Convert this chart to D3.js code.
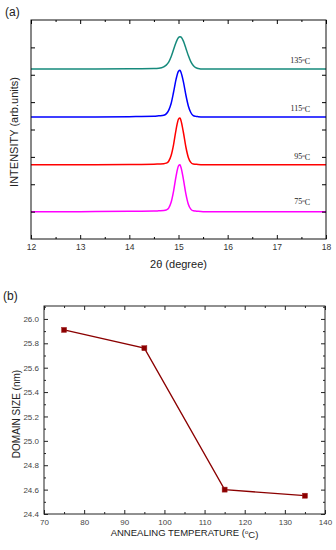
<!DOCTYPE html>
<html><head><meta charset="utf-8">
<script src="https://cdn.jsdelivr.net/npm/d3@7/dist/d3.min.js"></script>
<style>
html,body{margin:0;padding:0;background:#fff;}
svg{display:block;}
</style></head>
<body>
<svg id="chart" width="336" height="550"></svg>
<script>
// ---------- Panel (a) data: XRD profiles (stacked, arb. units) ----------
const twoTheta = [12, 13, 14, 14.5, 14.6, 14.7, 14.75, 14.8, 14.85, 14.9, 14.95, 15.0, 15.03, 15.05, 15.1, 15.15, 15.2, 15.25, 15.3, 15.35, 15.4, 15.5, 16, 17, 18];
const int75  = [1.00, 1.00, 1.01, 1.02, 1.03, 1.04, 1.06, 1.13, 1.34, 1.75, 2.29, 2.67, 2.71, 2.62, 2.18, 1.65, 1.27, 1.09, 1.03, 1.02, 1.01, 1.00, 1.00, 1.00, 1.00];
const int95  = [2.71, 2.71, 2.72, 2.73, 2.74, 2.75, 2.77, 2.84, 3.05, 3.45, 3.99, 4.38, 4.42, 4.33, 3.89, 3.36, 2.98, 2.80, 2.74, 2.73, 2.72, 2.71, 2.71, 2.71, 2.71];
const int115 = [4.46, 4.46, 4.47, 4.48, 4.50, 4.52, 4.57, 4.70, 4.95, 5.37, 5.83, 6.13, 6.16, 6.09, 5.74, 5.26, 4.86, 4.62, 4.51, 4.48, 4.47, 4.46, 4.46, 4.46, 4.46];
const int135 = [6.21, 6.21, 6.22, 6.23, 6.24, 6.29, 6.35, 6.46, 6.66, 6.92, 7.18, 7.36, 7.39, 7.38, 7.23, 6.97, 6.70, 6.48, 6.34, 6.26, 6.23, 6.21, 6.21, 6.21, 6.21];
const seriesNames = ["75", "95", "115", "135"];
const seriesColors = ["#ff00ff", "#ff0000", "#0000ff", "#168a7c"];
const xTicksA = [12, 13, 14, 15, 16, 17, 18];

// ---------- Panel (b) data: domain size vs annealing temperature ----------
const annealTemp = [75, 95, 115, 135];
const domainSize = [25.91, 25.76, 24.60, 24.55];
const xTicksB = [70, 80, 90, 100, 110, 120, 130, 140];
const yTicksB = [24.4, 24.6, 24.8, 25.0, 25.2, 25.4, 25.6, 25.8, 26.0];

const svg = d3.select("#chart");
const FONT = "Arial, 'Liberation Sans', sans-serif";

// ================= Panel (a) =================
const A = {l: 31, r: 326, t: 20, b: 239};
const xA = d3.scaleLinear().domain([12, 18]).range([A.l, A.r]);
const yA = d3.scaleLinear().domain([0, 8]).range([A.b, A.t]);
const gA = svg.append("g");

const allSeries = [int75, int95, int115, int135];
const line = d3.line().x(d => xA(d[0])).y(d => yA(d[1])).curve(d3.curveMonotoneX);
allSeries.forEach((s, i) => {
  gA.append("path")
    .attr("d", line(twoTheta.map((t, j) => [t, s[j]])))
    .attr("fill", "none").attr("stroke", seriesColors[i]).attr("stroke-width", 1.5);
});

// frame
gA.append("rect").attr("x", A.l).attr("y", A.t).attr("width", A.r - A.l).attr("height", A.b - A.t)
  .attr("fill", "none").attr("stroke", "#111").attr("stroke-width", 1);

// axes with inward ticks
const minorA = d3.range(12.5, 18, 1);
const axB = d3.axisBottom(xA).tickValues(xTicksA).tickSize(-4).tickPadding(5).tickFormat(d3.format("d"));
const gxb = gA.append("g").attr("transform", `translate(0,${A.b})`).call(axB);
gxb.select(".domain").remove();
gxb.selectAll("text").attr("font-size", 8.5).attr("font-family", FONT).attr("fill", "#333");
gxb.selectAll("line").attr("stroke", "#111");
const gxbm = gA.append("g").attr("transform", `translate(0,${A.b})`).call(d3.axisBottom(xA).tickValues(minorA).tickSize(-2).tickFormat(""));
gxbm.select(".domain").remove();
const gxt = gA.append("g").attr("transform", `translate(0,${A.t})`).call(d3.axisTop(xA).tickValues(xTicksA).tickSize(-4).tickFormat(""));
gxt.select(".domain").remove();
const gxtm = gA.append("g").attr("transform", `translate(0,${A.t})`).call(d3.axisTop(xA).tickValues(minorA).tickSize(-2).tickFormat(""));
gxtm.select(".domain").remove();
const yTA = d3.range(1, 8, 1);
const gyl = gA.append("g").attr("transform", `translate(${A.l},0)`).call(d3.axisLeft(yA).tickValues(yTA).tickSize(-4).tickFormat(""));
gyl.select(".domain").remove();
const gyr = gA.append("g").attr("transform", `translate(${A.r},0)`).call(d3.axisRight(yA).tickValues(yTA).tickSize(-4).tickFormat(""));
gyr.select(".domain").remove();

// series labels
const labelY = [201, 156, 108, 60];
seriesNames.forEach((n, i) => {
  const t = gA.append("text").attr("x", 310).attr("y", labelY[i]).attr("dy", "0.35em")
    .attr("text-anchor", "end").attr("font-family", "'Liberation Serif', 'Times New Roman', serif")
    .attr("font-size", 8).attr("fill", "#222");
  t.append("tspan").text(n);
  t.append("tspan").attr("font-size", 5).attr("dy", "-0.3em").text("o");
  t.append("tspan").attr("dy", "0.3em").text("C");
});

// axis titles
gA.append("text").attr("transform", `translate(14,132) rotate(-90)`).attr("text-anchor", "middle")
  .attr("dy", "0.35em").attr("font-family", FONT).attr("font-size", 11).attr("fill", "#222")
  .text("INTENSITY (arb.units)");
gA.append("text").attr("x", (A.l + A.r) / 2).attr("y", 264).attr("dy", "0.35em").attr("text-anchor", "middle")
  .attr("font-family", FONT).attr("font-size", 11).attr("fill", "#222").text("2θ (degree)");
svg.append("text").attr("x", 5).attr("y", 12).attr("dy", "0.35em").attr("font-family", FONT)
  .attr("font-size", 12).attr("fill", "#222").text("(a)");

// ================= Panel (b) =================
const B = {l: 44, r: 325, t: 306, b: 514};
const xB = d3.scaleLinear().domain([70, 140]).range([B.l, B.r]);
const yB = d3.scaleLinear().domain([24.4, 26.106]).range([B.b, B.t]);
const gB = svg.append("g");

gB.append("rect").attr("x", B.l).attr("y", B.t).attr("width", B.r - B.l).attr("height", B.b - B.t)
  .attr("fill", "none").attr("stroke", "#222").attr("stroke-width", 1);

const minorXB = d3.range(75, 140, 10);
const minorYB = d3.range(24.5, 26.1, 0.2);
function axisG(gen, tx, ty) {
  const g = gB.append("g").attr("transform", `translate(${tx},${ty})`).call(gen);
  g.select(".domain").remove();
  g.selectAll("line").attr("stroke", "#222");
  g.selectAll("text").attr("font-size", 8).attr("font-family", FONT).attr("fill", "#444");
  return g;
}
axisG(d3.axisBottom(xB).tickValues(xTicksB).tickSize(-4).tickPadding(5).tickFormat(d3.format("d")), 0, B.b);
axisG(d3.axisBottom(xB).tickValues(minorXB).tickSize(-2).tickFormat(""), 0, B.b);
axisG(d3.axisTop(xB).tickValues(xTicksB).tickSize(-4).tickFormat(""), 0, B.t);
axisG(d3.axisTop(xB).tickValues(minorXB).tickSize(-2).tickFormat(""), 0, B.t);
axisG(d3.axisLeft(yB).tickValues(yTicksB).tickSize(-4).tickPadding(5).tickFormat(d3.format(".1f")), B.l, 0);
axisG(d3.axisLeft(yB).tickValues(minorYB).tickSize(-2).tickFormat(""), B.l, 0);
axisG(d3.axisRight(yB).tickValues(yTicksB).tickSize(-4).tickFormat(""), B.r, 0);
axisG(d3.axisRight(yB).tickValues(minorYB).tickSize(-2).tickFormat(""), B.r, 0);

const pts = annealTemp.map((t, i) => [t, domainSize[i]]);
gB.append("path").attr("d", d3.line().x(d => xB(d[0])).y(d => yB(d[1]))(pts))
  .attr("fill", "none").attr("stroke", "#8b0000").attr("stroke-width", 1.3);
gB.selectAll("rect.m").data(pts).enter().append("rect").attr("class", "m")
  .attr("x", d => xB(d[0]) - 2.5).attr("y", d => yB(d[1]) - 2.5).attr("width", 5).attr("height", 5)
  .attr("fill", "#8b0000").attr("stroke", "#a02020").attr("stroke-width", 0.5);

gB.append("text").attr("transform", `translate(16,414) rotate(-90)`).attr("text-anchor", "middle")
  .attr("dy", "0.35em").attr("font-family", FONT).attr("font-size", 10).attr("fill", "#222")
  .text("DOMAIN SIZE (nm)");
const xt = gB.append("text").attr("x", (B.l + B.r) / 2).attr("y", 533).attr("dy", "0.35em").attr("text-anchor", "middle")
  .attr("font-family", FONT).attr("font-size", 9.5).attr("fill", "#222");
xt.append("tspan").text("ANNEALING TEMPERATURE (");
xt.append("tspan").attr("font-size", 6).attr("dy", "-0.4em").text("o");
xt.append("tspan").attr("dy", "0.4em").text("C)");
svg.append("text").attr("x", 3).attr("y", 296).attr("dy", "0.35em").attr("font-family", FONT)
  .attr("font-size", 12).attr("fill", "#222").text("(b)");
</script>
</body></html>
